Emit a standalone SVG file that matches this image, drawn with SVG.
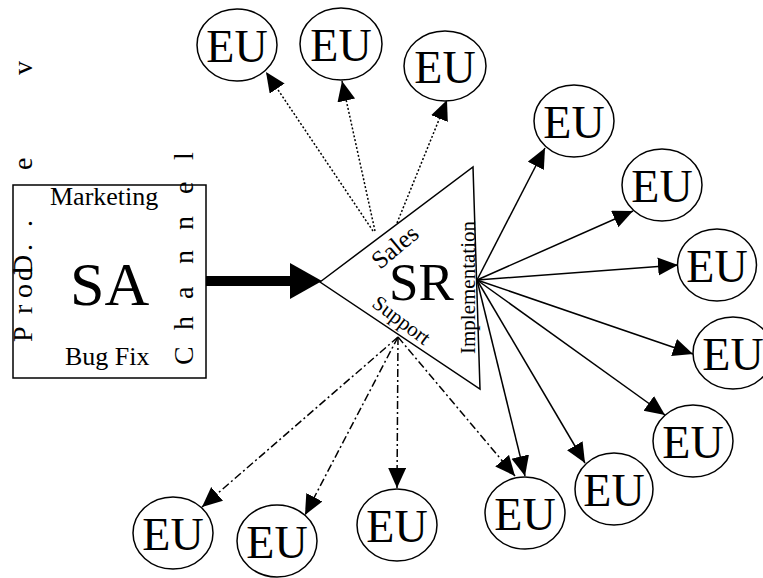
<svg xmlns="http://www.w3.org/2000/svg" width="763" height="578" viewBox="0 0 763 578">
  <defs>
    <style>
      text { font-family: "Liberation Serif", "Times New Roman", serif; fill: #000; }
      .node { fill: #fff; stroke: #000; stroke-width: 1.5; }
      .eu { font-size: 46px; text-anchor: middle; }
      .lbl { font-size: 28px; }
      .edge { fill: none; stroke: #000; stroke-width: 1.5; }
      .dot { stroke-dasharray: 2 2; marker-end: url(#head); }
      .dashdot { stroke-dasharray: 8 3 2 3; marker-end: url(#head); }
      .solid { marker-end: url(#head); }
    </style>
    <marker id="head" markerUnits="userSpaceOnUse" markerWidth="21" markerHeight="19" refX="20" refY="9" orient="auto">
      <path d="M0,0 L20,9 L0,18 z" fill="#000"/>
    </marker>
  </defs>

  <rect width="763" height="578" fill="#fff"/>

  <!-- Connectors -->
  <g id="connectors">
    <!-- SA to SR thick arrow -->
    <line x1="206" y1="281" x2="292" y2="281" stroke="#000" stroke-width="10"/>
    <path d="M290,263 L322,281 L290,299 z" fill="#000"/>
    <!-- Sales (dotted) -->
    <line class="edge dot" x1="373" y1="231" x2="266" y2="72"/>
    <line class="edge dot" x1="375" y1="231" x2="342" y2="81"/>
    <line class="edge dot" x1="397" y1="223" x2="447" y2="100"/>
    <!-- Implementation (solid) -->
    <line class="edge solid" x1="477" y1="280" x2="545" y2="148"/>
    <line class="edge solid" x1="477" y1="280" x2="633" y2="211"/>
    <line class="edge solid" x1="477" y1="280" x2="678" y2="265"/>
    <line class="edge solid" x1="477" y1="280" x2="693" y2="354"/>
    <line class="edge solid" x1="477" y1="280" x2="665" y2="415"/>
    <line class="edge solid" x1="477" y1="280" x2="585" y2="463"/>
    <line class="edge solid" x1="477" y1="280" x2="525" y2="476"/>
    <!-- Support (dash-dot) -->
    <line class="edge dashdot" x1="398" y1="337" x2="202" y2="507"/>
    <line class="edge dashdot" x1="398" y1="337" x2="305" y2="515"/>
    <line class="edge dashdot" x1="398" y1="337" x2="397" y2="488"/>
    <line class="edge dashdot" x1="398" y1="337" x2="515" y2="476"/>
  </g>

  <!-- SA node -->
  <g id="sa">
    <rect class="node" x="13" y="185" width="193" height="193"/>
    <text x="70" y="305" font-size="62">SA</text>
    <text x="50" y="205" font-size="26">Marketing</text>
    <text x="65" y="365" font-size="26">Bug Fix</text>
    <!-- vertical letters, left column -->
    <g class="lbl">
      <text transform="translate(32,342) rotate(-90)">P</text>
      <text transform="translate(32,314) rotate(-90)">r</text>
      <text transform="translate(32,298) rotate(-90)">o</text>
      <text transform="translate(32,281) rotate(-90)">d</text>
      <text transform="translate(32,275) rotate(-90)">D</text>
      <text transform="translate(32,251) rotate(-90)">.</text>
      <text transform="translate(32,227) rotate(-90)">.</text>
      <text transform="translate(32,170) rotate(-90)">e</text>
      <text transform="translate(32,75) rotate(-90)">v</text>
    </g>
    <!-- vertical letters, right column -->
    <g class="lbl">
      <text transform="translate(193,365) rotate(-90)">C</text>
      <text transform="translate(193,330) rotate(-90)">h</text>
      <text transform="translate(193,299) rotate(-90)">a</text>
      <text transform="translate(193,264) rotate(-90)">n</text>
      <text transform="translate(193,230) rotate(-90)">n</text>
      <text transform="translate(193,194) rotate(-90)">e</text>
      <text transform="translate(193,160) rotate(-90)">l</text>
    </g>
  </g>

  <!-- SR node -->
  <g id="sr">
    <path class="node" d="M320,282 L473,167 L480,389 z"/>
    <text x="389" y="300" font-size="53">SR</text>
    <text transform="translate(395,247) rotate(-40)" font-size="25" text-anchor="middle" dy="8">Sales</text>
    <text transform="translate(401,321) rotate(37)" font-size="21" text-anchor="middle" dy="6">Support</text>
    <text transform="translate(475,354) rotate(-90)" font-size="21">Implementation</text>
  </g>

  <!-- End users -->
  <g id="eu-t1"><ellipse class="node" cx="237" cy="45" rx="40" ry="36"/><text class="eu" x="237" y="62">EU</text></g>
  <g id="eu-t2"><ellipse class="node" cx="341" cy="44" rx="41" ry="36"/><text class="eu" x="341" y="61">EU</text></g>
  <g id="eu-t3"><ellipse class="node" cx="445" cy="66" rx="41" ry="35"/><text class="eu" x="445" y="83">EU</text></g>

  <g id="eu-r1"><ellipse class="node" cx="574" cy="121" rx="40" ry="36"/><text class="eu" x="574" y="138">EU</text></g>
  <g id="eu-r2"><ellipse class="node" cx="662" cy="185" rx="40" ry="36"/><text class="eu" x="662" y="202">EU</text></g>
  <g id="eu-r3"><ellipse class="node" cx="717" cy="265" rx="39.5" ry="36"/><text class="eu" x="717" y="282">EU</text></g>
  <g id="eu-r4"><ellipse class="node" cx="733" cy="353" rx="40" ry="36"/><text class="eu" x="733" y="370">EU</text></g>
  <g id="eu-r5"><ellipse class="node" cx="693" cy="441" rx="40" ry="36"/><text class="eu" x="693" y="458">EU</text></g>
  <g id="eu-r6"><ellipse class="node" cx="614" cy="489" rx="39" ry="36"/><text class="eu" x="614" y="506">EU</text></g>

  <g id="eu-b1"><ellipse class="node" cx="173" cy="533" rx="40" ry="36"/><text class="eu" x="173" y="550">EU</text></g>
  <g id="eu-b2"><ellipse class="node" cx="277" cy="541" rx="40" ry="36"/><text class="eu" x="277" y="558">EU</text></g>
  <g id="eu-b3"><ellipse class="node" cx="397" cy="525" rx="40" ry="36"/><text class="eu" x="397" y="542">EU</text></g>
  <g id="eu-b4"><ellipse class="node" cx="525" cy="513" rx="40" ry="36"/><text class="eu" x="525" y="530">EU</text></g>
</svg>
